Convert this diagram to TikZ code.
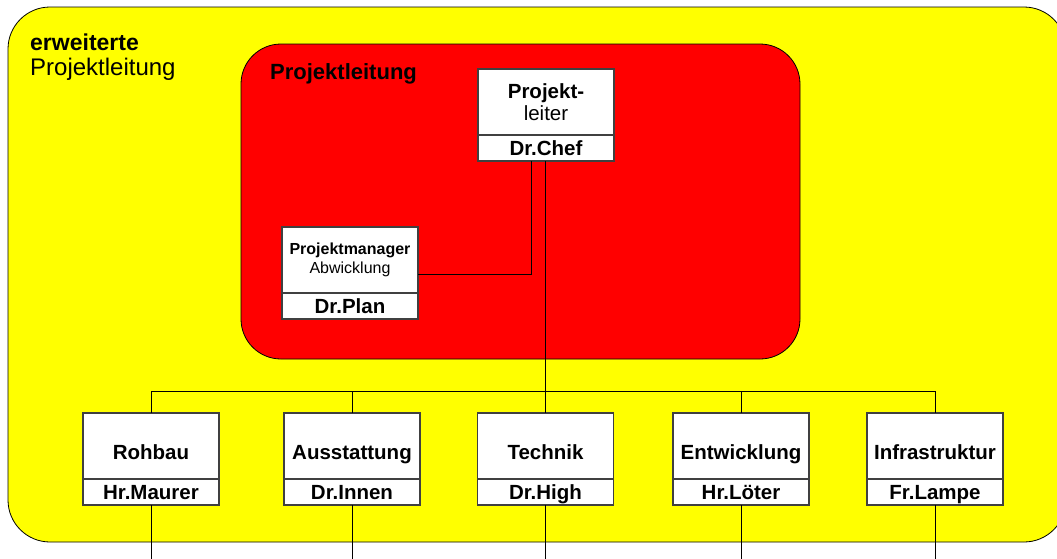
\documentclass[tikz,border=0pt]{standalone}
\usepackage{fontspec}
\setmainfont{Liberation Sans}
\usetikzlibrary{positioning}
\definecolor{gelb}{RGB}{255,255,0}
\definecolor{rot}{RGB}{255,0,0}

\begin{document}
\begin{tikzpicture}[x=1pt,y=-1pt,
    fachbox/.style={draw=black!75,line width=1.2pt,fill=white,outer sep=0pt,inner sep=1pt,
      minimum width=136pt,minimum height=66pt,align=center,
      font=\fontsize{20.5}{22}\selectfont\bfseries},
    low/.style={text height=31pt,text depth=5pt},
    namebox/.style={draw=black!75,line width=1.2pt,fill=white,outer sep=0pt,inner sep=1pt,
      minimum width=136pt,minimum height=26pt,text height=15pt,text depth=0pt,
      font=\fontsize{20.5}{22}\selectfont\bfseries},
    titel/.style={anchor=base west,inner sep=0pt},
    conn/.style={line width=1pt}]
  \useasboundingbox (0,0) rectangle (1057,558);
  \clip (0,0) rectangle (1057,558);
  \draw[line width=.8pt,fill=gelb,rounded corners=42pt] (8,7) rectangle (1066,542);
  \node[titel,font=\fontsize{23}{26}\selectfont\bfseries] (erw) at (30,50) {erweiterte};
  \node[titel,font=\fontsize{24}{26}\selectfont] (ext) at (30,75) {Projektleitung};
  \draw[line width=.8pt,fill=rot,rounded corners=40pt] (241,44) rectangle (800,359);
  \node[titel,font=\fontsize{22}{26}\selectfont\bfseries] (pl) at (270,79) {Projektleitung};

  \node[fachbox] (leiter) at (546,102) {Projekt-\\{\mdseries leiter}};
  \node[namebox,below=0pt of leiter] (chef) {Dr.Chef};
  \node[fachbox,font=\fontsize{16}{19}\selectfont] (manager) at (350,260) {{\bfseries Projektmanager}\\Abwicklung};
  \node[namebox,below=0pt of manager] (plan) {Dr.Plan};

  \foreach \k/\x/\fach/\p/\pers in {rohbau/151/Rohbau/maurer/Hr.Maurer,
      ausst/352/Ausstattung/innen/Dr.Innen, technik/545.5/Technik/high/Dr.High,
      entw/741/Entwicklung/loeter/Hr.Löter, infra/935/Infrastruktur/lampe/Fr.Lampe} {
    \node[fachbox,low] (\k) at (\x,446) {\fach};
    \node[namebox,below=0pt of \k] (\p) {\pers};
  }

  \coordinate (bus) at (0,391);
  \coordinate (rand) at (0,560);
  \draw[conn] (technik.north |- chef.south) -- (technik.north);
  \draw[conn] ([xshift=-15pt]chef.south) |- ([yshift=-14pt]manager.east);
  \draw[conn] (rohbau.north |- bus) -- (infra.north |- bus);
  \foreach \k in {rohbau,ausst,entw,infra}
    \draw[conn] (\k.north |- bus) -- (\k.north);
  \foreach \p in {maurer,innen,high,loeter,lampe}
    \draw[conn] (\p.south) -- (\p.south |- rand);
\end{tikzpicture}
\end{document}
